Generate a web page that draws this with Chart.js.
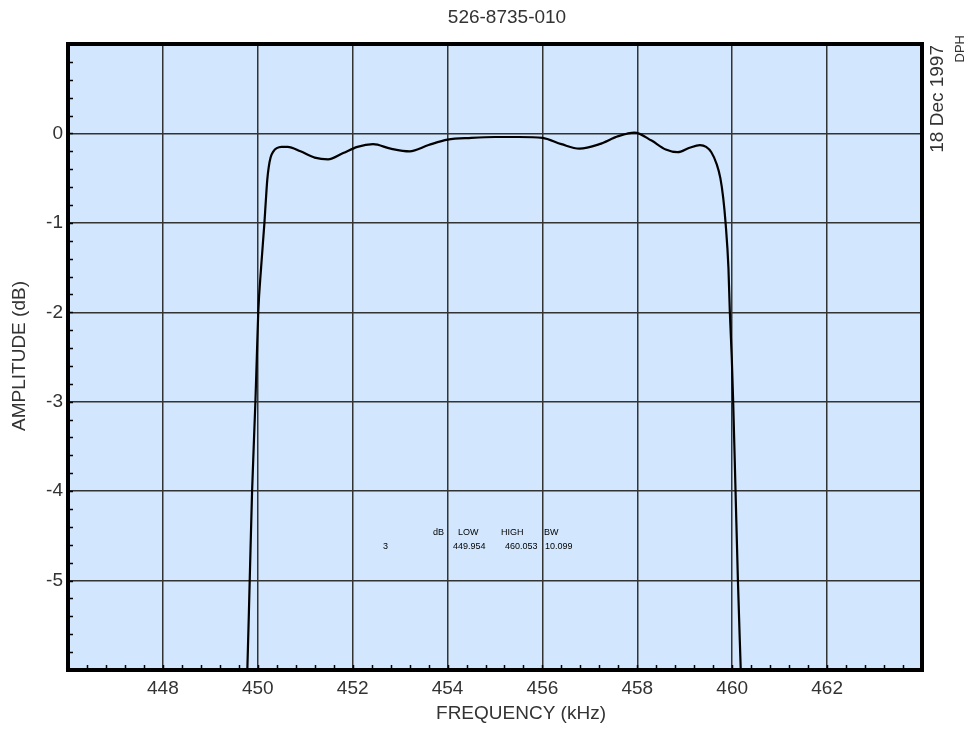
<!DOCTYPE html>
<html>
<head>
<meta charset="utf-8">
<script src="https://cdn.jsdelivr.net/npm/chart.js@4/dist/chart.umd.min.js"></script>
<style>
  html, body { margin: 0; padding: 0; background: #ffffff; }
  #wrap { width: 974px; height: 729px; }
</style>
</head>
<body>
<div id="wrap"><canvas id="c" width="974" height="729"></canvas></div>
<script>
// ---- data ----
const chartTitle = '526-8735-010';
const sideDate = '18 Dec 1997';
const sideInitials = 'DPH';
const xAxisTitle = 'FREQUENCY (kHz)';
const yAxisTitle = 'AMPLITUDE (dB)';

const freqKHz = [449.70, 449.78, 449.83, 449.88, 449.95, 449.98, 450.01, 450.07, 450.14, 450.17,
  450.20, 450.23, 450.27, 450.33, 450.40, 450.50, 450.63, 450.90, 451.20, 451.48,
  451.80, 452.10, 452.43, 452.80, 453.20, 453.60, 454.00, 454.50, 455.00, 455.50,
  456.00, 456.40, 456.78, 457.20, 457.60, 457.94, 458.30, 458.60, 458.85, 459.10,
  459.32, 459.45, 459.56, 459.67, 459.75, 459.81, 459.86, 459.92, 459.95, 459.99,
  460.02, 460.07, 460.12, 460.18, 460.24];
const ampDB = [-7.0, -6.0, -5.0, -4.0, -3.0, -2.5, -2.0, -1.5, -1.0, -0.75,
  -0.52, -0.38, -0.27, -0.20, -0.165, -0.15, -0.15, -0.20, -0.27, -0.29,
  -0.22, -0.15, -0.12, -0.17, -0.20, -0.13, -0.07, -0.05, -0.04, -0.04,
  -0.05, -0.12, -0.17, -0.12, -0.03, 0.01, -0.08, -0.18, -0.21, -0.16,
  -0.13, -0.15, -0.21, -0.34, -0.50, -0.72, -1.0, -1.5, -2.0, -2.5,
  -3.0, -4.0, -5.0, -6.0, -7.0];

const xTickLabels = [448, 450, 452, 454, 456, 458, 460, 462];
const yTickLabels = [0, -1, -2, -3, -4, -5];

const tableHeader = ['dB', 'LOW', 'HIGH', 'BW'];
const tableValues = ['3', '449.954', '460.053', '10.099'];

// ---- styling ----
const FONT = "'Liberation Sans', Arial, sans-serif";
const TXT = '#333333';
const GRID = '#333333';
const BG = '#d2e7fd';

const points = freqKHz.map((f, i) => ({ x: f, y: ampDB[i] }));

const decorPlugin = {
  id: 'decor',
  beforeDraw(chart) {
    const { ctx, chartArea: a } = chart;
    ctx.save();
    ctx.fillStyle = BG;
    ctx.fillRect(a.left, a.top, a.right - a.left, a.bottom - a.top);
    ctx.restore();
  },
  afterDraw(chart) {
    const { ctx, chartArea: a, scales } = chart;
    const xs = scales.x, ys = scales.y;
    ctx.save();
    // minor ticks (inside)
    ctx.strokeStyle = '#000';
    ctx.lineWidth = 1.5;
    ctx.beginPath();
    for (let k = 0; k <= 45; k++) {
      const v = 446 + k * 0.4;
      const px = Math.round(xs.getPixelForValue(v)) + 0.5;
      ctx.moveTo(px, a.bottom);
      ctx.lineTo(px, a.bottom - 5);
    }
    for (let k = 0; k <= 35; k++) {
      const v = -6 + k * 0.2;
      const py = Math.round(ys.getPixelForValue(v)) + 0.5;
      ctx.moveTo(a.left, py);
      ctx.lineTo(a.left + 5, py);
    }
    ctx.stroke();
    // frame
    ctx.lineWidth = 4;
    ctx.strokeStyle = '#000';
    ctx.strokeRect(a.left, a.top, a.right - a.left, a.bottom - a.top);

    // titles
    ctx.fillStyle = TXT;
    ctx.font = '19px ' + FONT;
    ctx.textAlign = 'center';
    ctx.textBaseline = 'middle';
    ctx.fillText(chartTitle, 507, 18);
    ctx.fillText(xAxisTitle, 521, 714);

    ctx.save();
    ctx.translate(20, 356);
    ctx.rotate(-Math.PI / 2);
    ctx.fillText(yAxisTitle, 0, 0);
    ctx.restore();

    ctx.save();
    ctx.translate(938, 45);
    ctx.rotate(-Math.PI / 2);
    ctx.textAlign = 'right';
    ctx.fillText(sideDate, 0, 0);
    ctx.restore();

    ctx.save();
    ctx.translate(960, 35);
    ctx.rotate(-Math.PI / 2);
    ctx.textAlign = 'right';
    ctx.font = '13px ' + FONT;
    ctx.fillText(sideInitials, 0, 0);
    ctx.restore();

    // -3 dB table
    ctx.fillStyle = '#000';
    ctx.font = '9px ' + FONT;
    ctx.textAlign = 'left';
    ctx.textBaseline = 'middle';
    const hx = [433, 458, 501, 544];
    const vx = [383, 453, 505, 545];
    tableHeader.forEach((t, i) => ctx.fillText(t, hx[i], 533));
    tableValues.forEach((t, i) => ctx.fillText(t, vx[i], 547));
    ctx.restore();
  }
};

new Chart(document.getElementById('c'), {
  type: 'line',
  data: {
    datasets: [{
      data: points,
      borderColor: '#000000',
      borderWidth: 2.2,
      pointRadius: 0,
      fill: false,
      cubicInterpolationMode: 'monotone'
    }]
  },
  options: {
    responsive: false,
    animation: false,
    devicePixelRatio: 1,
    layout: { padding: { top: 44, right: 52, left: 0, bottom: 0 } },
    plugins: { legend: { display: false }, tooltip: { enabled: false }, title: { display: false } },
    scales: {
      x: {
        type: 'linear',
        min: 446, max: 464,
        afterFit(s) { s.height = 59; },
        border: { display: false },
        grid: { color: GRID, lineWidth: 1.5, drawTicks: false },
        ticks: {
          stepSize: 2,
          padding: 7,
          color: TXT,
          font: { family: FONT, size: 19 },
          maxRotation: 0,
          autoSkip: false,
          callback: v => xTickLabels.includes(v) ? String(v) : ''
        }
      },
      y: {
        type: 'linear',
        min: -6, max: 1,
        afterFit(s) { s.width = 68; },
        border: { display: false },
        grid: { color: GRID, lineWidth: 1.5, drawTicks: false },
        ticks: {
          stepSize: 1,
          padding: 5,
          color: TXT,
          font: { family: FONT, size: 19 },
          autoSkip: false,
          callback: v => yTickLabels.includes(v) ? String(v) : ''
        }
      }
    }
  },
  plugins: [decorPlugin]
});
</script>
</body>
</html>
